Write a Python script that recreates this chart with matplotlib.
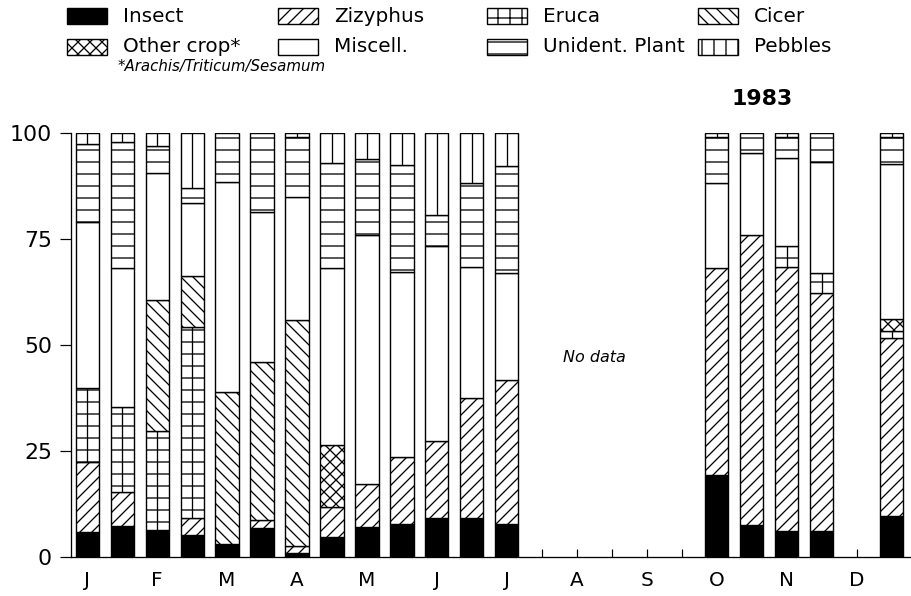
import matplotlib
matplotlib.use("Agg")
import matplotlib.pyplot as plt
from matplotlib.patches import Rectangle
import numpy as np

# ---------------- data ----------------
months = ["J", "F", "M", "A", "M", "J", "J", "A", "S", "O", "N", "D"]
# two sample slots per month (24 slots); bars exist only in these slots
bar_slots = [0, 1, 2, 3, 4, 5, 6, 7, 8, 9, 10, 11, 12, 18, 19, 20, 21, 23]

categories = ["Insect", "Zizyphus", "Eruca", "Cicer", "Other crop*",
              "Miscell.", "Unident. Plant", "Pebbles"]

insect   = [6.0, 7.2, 6.4, 5.2, 3.0, 6.8, 1.0, 4.8, 7.0, 7.9, 9.1, 9.1, 7.9, 19.3, 7.5, 6.2, 6.2, 9.7]
zizyphus = [16.5, 8.2, 0.0, 3.9, 0.0, 1.9, 1.5, 7.1, 10.1, 15.6, 18.3, 28.3, 33.8, 48.8, 68.4, 62.1, 56.1, 41.9]
eruca    = [17.3, 19.9, 23.2, 45.2, 0, 0, 0, 0, 0, 0, 0, 0, 0, 0, 0, 5.0, 4.6, 1.8]
cicer    = [0, 0, 31.0, 12.0, 36.0, 37.4, 53.5, 0, 0, 0, 0, 0, 0, 0, 0, 0, 0, 0]
other    = [0, 0, 0, 0, 0, 0, 0, 14.5, 0, 0, 0, 0, 0, 0, 0, 0, 0, 2.7]
miscell  = [39.3, 32.8, 30.0, 17.1, 49.5, 35.3, 29.0, 41.7, 58.8, 43.6, 45.9, 31.1, 25.2, 20.2, 19.3, 20.7, 26.2, 36.6]
unident  = [18.3, 29.8, 6.3, 3.6, 11.5, 18.6, 14.0, 24.9, 17.9, 25.4, 7.4, 19.6, 25.2, 10.7, 4.8, 5.0, 6.8, 6.3]
pebbles  = [2.6, 2.1, 3.2, 13.0, 0, 0, 1.0, 7.0, 6.2, 7.5, 19.3, 11.9, 7.9, 1.0, 0, 1.0, 0, 1.0]

series = [insect, zizyphus, eruca, cicer, other, miscell, unident, pebbles]
yticks = [0, 25, 50, 75, 100]

# ---------------- styles ----------------
styles = [
    dict(facecolor="black", hatch=None),    # Insect
    dict(facecolor="white", hatch="//"),    # Zizyphus
    dict(facecolor="white", hatch="-"),     # Eruca (+ centre line)
    dict(facecolor="white", hatch="\\\\"),  # Cicer
    dict(facecolor="white", hatch="xx"),    # Other crop
    dict(facecolor="white", hatch=None),    # Miscell.
    dict(facecolor="white", hatch="-"),     # Unident. Plant
    dict(facecolor="white", hatch=None),    # Pebbles (+ centre line)
]
legend_hatch = [None, "//", "+", "\\\\", "xx", None, "-", "|"]
centre_line = [False, False, True, False, False, False, False, True]

plt.rcParams["font.family"] = ["DejaVu Sans"]
plt.rcParams["hatch.linewidth"] = 1.3
plt.rcParams["hatch.color"] = "black"

W, H, DPI = 911, 596, 72
fig = plt.figure(figsize=(W / DPI, H / DPI), dpi=DPI)

def fx(px):
    return px / W

def fy(py):
    return 1 - py / H

ax_left, ax_right, ax_top, ax_bot = 71, 911, 133, 557
ax = fig.add_axes([fx(ax_left), fy(ax_bot), fx(ax_right - ax_left), (ax_bot - ax_top) / H])

x = np.array(bar_slots, dtype=float)
width = 0.66
bottom = np.zeros(len(x))
for vals, st, cl in zip(series, styles, centre_line):
    v = np.array(vals, dtype=float)
    mask = v > 0
    ax.bar(x[mask], v[mask], width=width, bottom=bottom[mask],
           facecolor=st["facecolor"], hatch=st["hatch"],
           edgecolor="black", linewidth=1.4, zorder=2)
    if cl:
        ax.vlines(x[mask], bottom[mask], bottom[mask] + v[mask],
                  colors="black", linewidth=1.3, zorder=3)
    bottom = bottom + v

ax.set_xlim(-0.46, 23.55)
ax.set_ylim(0, 100)

ax.spines["top"].set_visible(False)
ax.spines["right"].set_visible(False)
ax.spines["left"].set_linewidth(1.3)
ax.spines["bottom"].set_linewidth(1.3)

xt = list(range(24))
xl = [months[i // 2] if i % 2 == 0 else "" for i in xt]
ax.set_xticks(xt)
ax.set_xticklabels(xl, fontsize=20)
ax.tick_params(axis="x", direction="in", length=8, width=1.2, pad=14)
ax.set_yticks(yticks)
ax.set_yticklabels([str(t) for t in yticks], fontsize=22)
ax.tick_params(axis="y", direction="out", length=11, width=1.2, pad=8)

ax.text(14.5, 47, "No data", fontsize=16, style="italic", ha="center", va="center")
ax.text(19.3, 108, "1983", fontsize=22, fontweight="bold", ha="center", va="center",
        clip_on=False)

# ---------------- legend (manual, 4 columns x 2 rows) ----------------
col_x = [67, 278, 487, 698]
row_y = [16, 47]
pw, ph = 40, 15
for i, (name, st, lh) in enumerate(zip(categories, styles, legend_hatch)):
    r, c = divmod(i, 4)
    px, py = col_x[c], row_y[r]
    rect = Rectangle((fx(px), fy(py + ph / 2)), pw / W, ph / H,
                     transform=fig.transFigure, facecolor=st["facecolor"],
                     hatch=lh, edgecolor="black", linewidth=1.4)
    fig.add_artist(rect)
    fig.text(fx(px + 56), fy(py), name, fontsize=20, ha="left", va="center")

fig.text(fx(118), fy(67), "*Arachis/Triticum/Sesamum", fontsize=15,
         style="italic", ha="left", va="center")

fig.savefig("out.png", dpi=DPI)
